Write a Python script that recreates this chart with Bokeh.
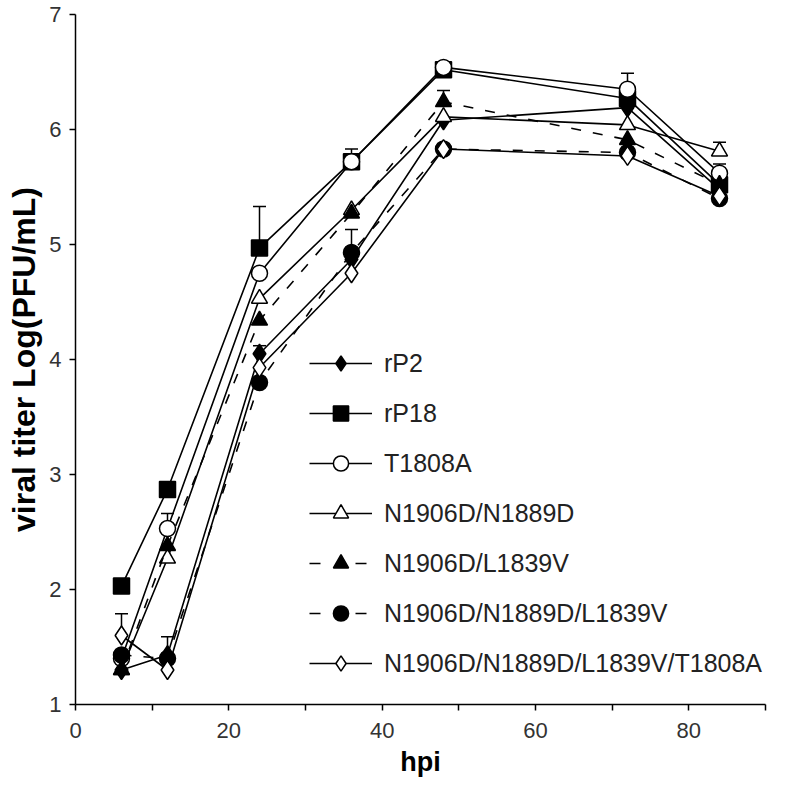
from bokeh.plotting import figure
from bokeh.models import (ColumnDataSource, Whisker, TeeHead, Legend, LegendItem,
                          FixedTicker)
from bokeh.embed import file_html
from bokeh.resources import INLINE

# ---------------- data ----------------
hours = [6, 12, 24, 36, 48, 72, 84]

names = ["rP2", "rP18", "T1808A", "N1906D/N1889D", "N1906D/L1839V",
         "N1906D/N1889D/L1839V", "N1906D/N1889D/L1839V/T1808A"]

rP2 = [1.30, 1.43, 4.05, 4.87, 6.08, 6.19, 5.48]
rP2_err = [0, 0.16, 0.07, 0, 0, 0, 0]

rP18 = [2.03, 2.87, 4.97, 5.72, 6.52, 6.27, 5.52]
rP18_err = [0, 0, 0.36, 0, 0, 0, 0]

t1808a = [1.40, 2.53, 4.75, 5.72, 6.54, 6.35, 5.62]
t1808a_err = [0, 0.13, 0, 0.11, 0.04, 0.14, 0.08]

n1906d_n1889d = [1.30, 2.27, 4.53, 5.30, 6.11, 6.04, 5.81]
n1906d_n1889d_err = [0, 0, 0, 0, 0, 0, 0.08]

n1906d_l1839v = [1.30, 2.38, 4.34, 5.27, 6.24, 5.91, 5.52]
n1906d_l1839v_err = [0, 0, 0, 0, 0.10, 0, 0]

triple = [1.43, 1.40, 3.80, 4.93, 5.83, 5.80, 5.40]
triple_err = [0, 0, 0, 0.20, 0, 0, 0]

quad = [1.60, 1.30, 3.93, 4.75, 5.83, 5.77, 5.42]
quad_err = [0.19, 0, 0, 0, 0, 0, 0]

x_ticks = [0, 10, 20, 30, 40, 50, 60, 70, 80, 90]
x_tick_labels = ["0", "", "20", "", "40", "", "60", "", "80", ""]
y_ticks = [1, 2, 3, 4, 5, 6, 7]

series = [
    (rP2, rP2_err, "diamond", "black", "solid", 19),
    (rP18, rP18_err, "square", "black", "solid", 16),
    (t1808a, t1808a_err, "circle", "white", "solid", 16),
    (n1906d_n1889d, n1906d_n1889d_err, "triangle", "white", "solid", 16),
    (n1906d_l1839v, n1906d_l1839v_err, "triangle", "black", "dashed", 16),
    (triple, triple_err, "circle", "black", "dashed", 16),
    (quad, quad_err, "diamond", "white", "solid", 19),
]

FONT = "Liberation Sans"

p = figure(frame_width=690, frame_height=690, x_range=(0, 90), y_range=(1, 7),
           output_backend="svg", toolbar_location=None,
           min_border_left=75, min_border_top=14, min_border_right=23,
           min_border_bottom=76)
p.grid.visible = False
p.outline_line_color = None
p.background_fill_color = "white"

for ax in (p.xaxis[0], p.yaxis[0]):
    ax.axis_line_color = "black"
    ax.axis_line_width = 1.5
    ax.major_tick_line_color = "black"
    ax.major_tick_line_width = 1.5
    ax.major_tick_out = 6
    ax.major_tick_in = 0
    ax.minor_tick_line_color = None
    ax.major_label_text_font = FONT
    ax.major_label_text_font_size = "22px"
    ax.major_label_text_color = "#333333"
    ax.axis_label_text_font = FONT
    ax.axis_label_text_font_style = "bold"
    ax.axis_label_text_color = "black"

p.xaxis.ticker = FixedTicker(ticks=x_ticks)
p.xaxis.major_label_overrides = {t: l for t, l in zip(x_ticks, x_tick_labels)}
p.yaxis.ticker = FixedTicker(ticks=y_ticks)
p.xaxis.axis_label = "hpi"
p.yaxis.axis_label = "viral titer Log(PFU/mL)"
p.xaxis.axis_label_text_font_size = "27px"
p.yaxis.axis_label_text_font_size = "32px"
p.xaxis.major_label_standoff = 12
p.yaxis.major_label_standoff = 8
p.xaxis.axis_label_standoff = 6
p.yaxis.axis_label_standoff = 4

# error bars (upper only)
for vals, errs, marker, fill, dash, size in series:
    bx = [h for h, e in zip(hours, errs) if e > 0]
    lo = [v for v, e in zip(vals, errs) if e > 0]
    up = [v + e for v, e in zip(vals, errs) if e > 0]
    if bx:
        src = ColumnDataSource(dict(base=bx, lower=lo, upper=up))
        w = Whisker(base="base", lower="lower", upper="upper", source=src,
                    dimension="height", line_color="black", line_width=1.5,
                    upper_head=TeeHead(size=13, line_color="black", line_width=1.5),
                    lower_head=None)
        p.add_layout(w)

items = []
for name, (vals, errs, marker, fill, dash, size) in zip(names, series):
    ld = "solid" if dash == "solid" else "10 12"
    lr = p.line(hours, vals, line_color="black", line_width=1.6, line_dash=ld)
    sr = p.scatter(hours, vals, marker=marker, size=size, fill_color=fill,
                   line_color="black", line_width=1.5)
    if dash == "solid":
        leg_line = lr
    else:
        # legend-only sample (a single point draws nothing in the plot):
        # one short dash at each end of the sample
        leg_line = p.line(hours[:1], vals[:1], line_color="black",
                          line_width=1.6, line_dash="11 35")
    items.append(LegendItem(label=name, renderers=[leg_line, sr]))

legend = Legend(items=items, location=(234, 22), orientation="vertical")
legend.border_line_color = None
legend.background_fill_alpha = 0
legend.label_text_font = FONT
legend.label_text_font_size = "25px"
legend.label_text_color = "#222222"
legend.glyph_width = 63
legend.glyph_height = 38
legend.label_height = 38
legend.spacing = 12
legend.label_standoff = 12
legend.padding = 0
legend.margin = 0
p.add_layout(legend)

open("out.html", "w").write(file_html(p, INLINE))
